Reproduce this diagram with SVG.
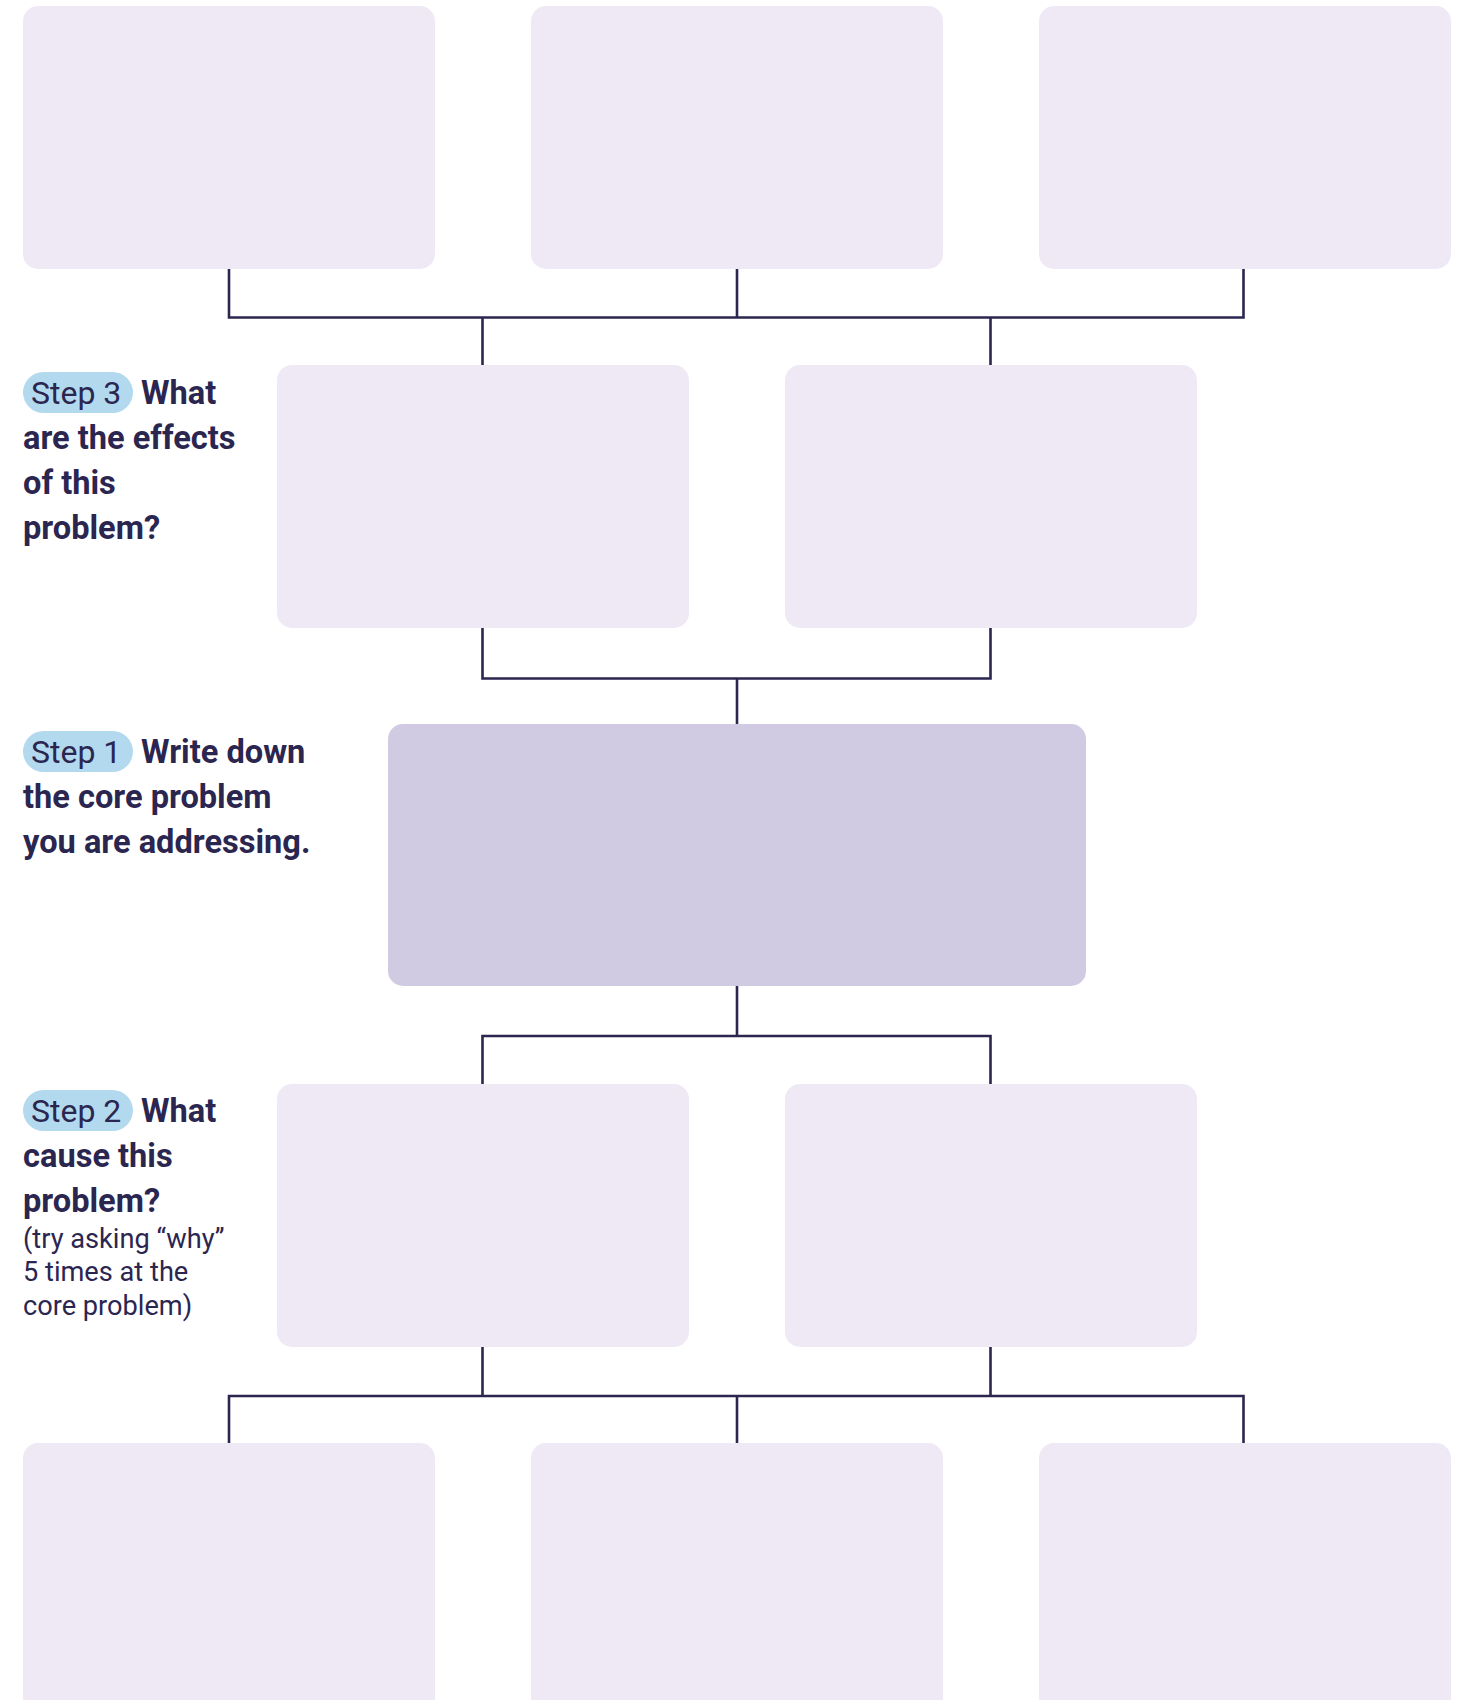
<svg xmlns="http://www.w3.org/2000/svg" width="1461" height="1700" viewBox="0 0 1461 1700">
<style>
.box{fill:#efe9f5}
.core{fill:#d0cae2}
.pill{fill:#b3d9ee}
.conn{fill:none;stroke:#2b2650;stroke-width:2.6}
.b{font-family:Roboto,"Liberation Sans",sans-serif;font-weight:700;font-size:32.6px;fill:#2b2650}
.s{font-family:Roboto,"Liberation Sans",sans-serif;font-weight:400;font-size:32px;fill:#2b2650}
.r{font-family:Roboto,"Liberation Sans",sans-serif;font-weight:400;font-size:27.2px;fill:#2b2650}
</style>
<rect width="1461" height="1700" fill="#ffffff"/>
<g id="connectors">
<path class="conn" d="M229 269V317.5H1243.5V269M737 269V317.5M482.5 317.5V365M990.5 317.5V365"/>
<path class="conn" d="M482.5 627.5V678.5H990.5V627.5M737 678.5V724"/>
<path class="conn" d="M737 986V1036H482.5V1084M737 1036H990.5V1084"/>
<path class="conn" d="M482.5 1346V1396M990.5 1346V1396M229 1443V1396H1243.5V1443M737 1396V1443"/>
</g>
<g id="effect-1"><rect class="box" x="23" y="6" width="412" height="263" rx="15"/></g>
<g id="effect-2"><rect class="box" x="531" y="6" width="412" height="263" rx="15"/></g>
<g id="effect-3"><rect class="box" x="1039" y="6" width="412" height="263" rx="15"/></g>
<g id="effect-4"><rect class="box" x="277" y="365" width="412" height="263" rx="15"/></g>
<g id="effect-5"><rect class="box" x="785" y="365" width="412" height="263" rx="15"/></g>
<g id="core"><rect class="core" x="388" y="724" width="698" height="262" rx="15"/></g>
<g id="cause-1"><rect class="box" x="277" y="1084" width="412" height="263" rx="15"/></g>
<g id="cause-2"><rect class="box" x="785" y="1084" width="412" height="263" rx="15"/></g>
<g id="cause-3"><rect class="box" x="23" y="1443" width="412" height="270" rx="15"/></g>
<g id="cause-4"><rect class="box" x="531" y="1443" width="412" height="270" rx="15"/></g>
<g id="cause-5"><rect class="box" x="1039" y="1443" width="412" height="270" rx="15"/></g>
<g id="step3">
<rect class="pill" x="23" y="372" width="110" height="41" rx="20.5"/>
<text class="s" x="31" y="404">Step 3</text>
<text class="b" x="141" y="404">What</text>
<text class="b" x="23" y="449">are the effects</text>
<text class="b" x="23" y="494">of this</text>
<text class="b" x="23" y="539">problem?</text>
</g>
<g id="step1">
<rect class="pill" x="23" y="731" width="110" height="41" rx="20.5"/>
<text class="s" x="31" y="763">Step 1</text>
<text class="b" x="141" y="763">Write down</text>
<text class="b" x="23" y="808">the core problem</text>
<text class="b" x="23" y="853">you are addressing.</text>
</g>
<g id="step2">
<rect class="pill" x="23" y="1090" width="110" height="41" rx="20.5"/>
<text class="s" x="31" y="1122">Step 2</text>
<text class="b" x="141" y="1122">What</text>
<text class="b" x="23" y="1167">cause this</text>
<text class="b" x="23" y="1212">problem?</text>
<text class="r" x="23" y="1247.5">(try asking “why”</text>
<text class="r" x="23" y="1281">5 times at the</text>
<text class="r" x="23" y="1314.5">core problem)</text>
</g>
</svg>
